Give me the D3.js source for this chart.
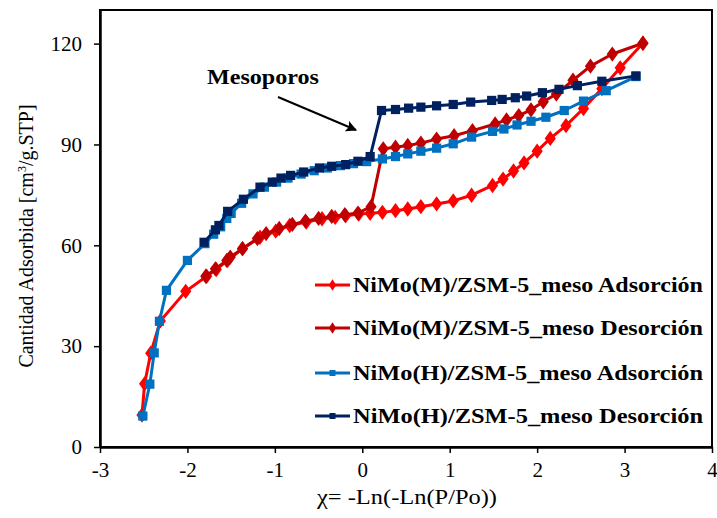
<!DOCTYPE html>
<html>
<head>
<meta charset="utf-8">
<script src="https://cdn.jsdelivr.net/npm/d3@7"></script>
<style>
  html, body { margin: 0; padding: 0; background: #fff; }
  svg { display: block; }
  text { font-family: "Liberation Serif", "Times New Roman", serif; fill: #000; }
</style>
</head>
<body>
<svg id="chart" width="717" height="518"></svg>
<script>
// ---------- data ----------
const xTicks = [-3, -2, -1, 0, 1, 2, 3, 4];
const yTicks = [0, 30, 60, 90, 120];

const seriesNames = [
  "NiMo(M)/ZSM-5_meso Adsorción",
  "NiMo(M)/ZSM-5_meso Desorción",
  "NiMo(H)/ZSM-5_meso Adsorción",
  "NiMo(H)/ZSM-5_meso Desorción"
];

const mAdsX = [-2.52, -2.49, -2.42, -2.31, -2.02, -1.78, -1.67, -1.54, -1.37, -1.17, -0.99, -0.83, -0.64, -0.46, -0.31, -0.19, -0.04, 0.09, 0.23, 0.38, 0.52, 0.67, 0.85, 1.04, 1.25, 1.49, 1.61, 1.73, 1.85, 2.00, 2.15, 2.33, 2.53, 2.74, 2.95, 3.21];
const mAdsY = [9.5, 18.8, 27.9, 37.5, 46.3, 50.8, 52.8, 55.5, 59.0, 62.4, 64.2, 65.9, 66.9, 67.9, 68.3, 68.8, 69.3, 69.5, 69.8, 70.3, 70.8, 71.5, 72.3, 73.2, 74.9, 77.8, 79.7, 82.1, 84.5, 88.0, 91.8, 95.6, 100.7, 106.6, 112.8, 120.1];

const mDesX = [3.21, 2.86, 2.61, 2.41, 2.22, 2.07, 1.93, 1.79, 1.65, 1.52, 1.26, 1.05, 0.85, 0.67, 0.52, 0.38, 0.24, 0.10, -0.05, -0.20, -0.35, -0.50, -0.65, -0.80, -0.95, -1.10, -1.20, -1.37, -1.51, -1.55, -1.68, -1.79];
const mDesY = [120.1, 116.9, 113.3, 109.1, 105.0, 102.7, 100.3, 98.6, 97.3, 96.1, 94.1, 92.6, 91.6, 90.4, 89.7, 89.2, 88.7, 71.5, 69.6, 69.1, 68.6, 68.0, 67.2, 66.2, 65.0, 63.5, 62.0, 59.0, 56.5, 55.5, 53.0, 50.8];

const hAdsX = [-2.51, -2.43, -2.38, -2.32, -2.24, -2.00, -1.80, -1.70, -1.62, -1.55, -1.50, -1.38, -1.25, -1.12, -0.98, -0.85, -0.70, -0.55, -0.40, -0.25, -0.10, 0.05, 0.23, 0.38, 0.52, 0.67, 0.85, 1.04, 1.25, 1.49, 1.62, 1.77, 1.93, 2.10, 2.31, 2.53, 2.79, 3.13];
const hAdsY = [9.2, 18.7, 28.0, 37.4, 46.6, 55.5, 60.5, 63.3, 65.5, 68.0, 69.5, 72.5, 75.3, 77.3, 78.8, 80.0, 81.2, 82.2, 83.0, 83.7, 84.3, 84.9, 85.7, 86.4, 87.2, 88.0, 88.9, 90.2, 92.2, 93.9, 94.6, 95.8, 96.9, 98.1, 100.1, 102.9, 106.0, 110.2];

const hDesX = [3.13, 2.74, 2.46, 2.25, 2.06, 1.88, 1.75, 1.60, 1.48, 1.24, 1.04, 0.85, 0.67, 0.53, 0.38, 0.22, 0.09, -0.05, -0.19, -0.35, -0.49, -0.67, -0.82, -0.93, -1.03, -1.17, -1.36, -1.54, -1.64, -1.68, -1.81];
const hDesY = [110.4, 108.8, 107.5, 106.4, 105.4, 104.4, 103.9, 103.4, 103.1, 102.6, 101.9, 101.5, 101.1, 100.8, 100.4, 100.1, 86.4, 85.0, 84.0, 83.5, 83.0, 81.8, 80.8, 80.0, 78.8, 77.3, 73.7, 70.1, 65.9, 64.6, 60.9];

const colors = ["#FF0000", "#C00000", "#0070C0", "#002060"];
const markers = ["diamond", "diamond", "square", "square"];

const series = [
  { name: seriesNames[0], xs: mAdsX, ys: mAdsY, color: colors[0], marker: markers[0] },
  { name: seriesNames[1], xs: mDesX, ys: mDesY, color: colors[1], marker: markers[1] },
  { name: seriesNames[2], xs: hAdsX, ys: hAdsY, color: colors[2], marker: markers[2] },
  { name: seriesNames[3], xs: hDesX, ys: hDesY, color: colors[3], marker: markers[3] }
];

// ---------- layout ----------
const svg = d3.select("#chart");
const L = 100, R = 712, T = 10, B = 447;

const x = d3.scaleLinear().domain([-3, 4]).range([L, R]);
const y = d3.scaleLinear().domain([0, 130]).range([B, T]);

// plot frame
svg.append("rect")
  .attr("x", L).attr("y", T).attr("width", R - L).attr("height", B - T)
  .attr("fill", "none").attr("stroke", "#000").attr("stroke-width", 2);

// axes
const fmt = d => String(d);
const xAxis = svg.append("g").attr("transform", `translate(0,${B})`)
  .call(d3.axisBottom(x).tickValues(xTicks).tickFormat(fmt).tickSize(6).tickSizeOuter(0).tickPadding(6));
const yAxis = svg.append("g").attr("transform", `translate(${L},0)`)
  .call(d3.axisLeft(y).tickValues(yTicks).tickFormat(fmt).tickSize(6).tickSizeOuter(0).tickPadding(12));

[xAxis, yAxis].forEach(g => {
  g.attr("font-family", null);
  g.select(".domain").attr("stroke", "#000").attr("stroke-width", 2.5);
  g.selectAll(".tick line").attr("stroke", "#000").attr("stroke-width", 1.5);
  g.selectAll(".tick text")
    .style("font-family", '"Liberation Serif", serif')
    .style("font-size", "21px").attr("fill", "#000");
});
xAxis.selectAll(".tick text").attr("dy", "0.85em");

// axis titles
svg.append("text")
  .attr("x", 407).attr("y", 504)
  .attr("text-anchor", "middle")
  .style("font-size", "21px")
  .attr("textLength", 180).attr("lengthAdjust", "spacingAndGlyphs")
  .text("χ= -Ln(-Ln(P/Po))");

const yt = svg.append("text")
  .attr("transform", "translate(33,236) rotate(-90)")
  .attr("text-anchor", "middle")
  .style("font-size", "20px");
yt.append("tspan").text("Cantidad Adsorbida [cm");
yt.append("tspan").attr("baseline-shift", "super").style("font-size", "12px").text("3");
yt.append("tspan").text("/g.STP]");

// series
const line = d3.line().x(d => x(d[0])).y(d => y(d[1]));
const sq = d3.symbol().type(d3.symbolSquare).size(85);
const dm = d3.symbol().type(d3.symbolDiamond).size(75);

series.forEach(s => {
  const pts = s.xs.map((v, i) => [v, s.ys[i]]);
  const g = svg.append("g");
  g.append("path").datum(pts)
    .attr("d", line)
    .attr("fill", "none").attr("stroke", s.color).attr("stroke-width", 3)
    .attr("stroke-linejoin", "round");
  g.selectAll("path.m").data(pts).enter().append("path")
    .attr("class", "m")
    .attr("transform", d => `translate(${x(d[0])},${y(d[1])})` + (s.marker === "diamond" ? " scale(1.2,0.95)" : ""))
    .attr("d", s.marker === "diamond" ? dm : sq)
    .attr("fill", s.color);
});

// annotation
svg.append("text")
  .attr("x", 263).attr("y", 84)
  .attr("text-anchor", "middle")
  .style("font-size", "20px").style("font-weight", "bold")
  .attr("textLength", 112).attr("lengthAdjust", "spacingAndGlyphs")
  .text("Mesoporos");

svg.append("defs").append("marker")
  .attr("id", "arrow").attr("viewBox", "0 0 10 10")
  .attr("refX", 9).attr("refY", 5)
  .attr("markerWidth", 5.5).attr("markerHeight", 5.5)
  .attr("orient", "auto")
  .append("path").attr("d", "M0,0 L10,5 L0,10 L2,5 z").attr("fill", "#000");

svg.append("line")
  .attr("x1", 278).attr("y1", 97).attr("x2", 356).attr("y2", 130)
  .attr("stroke", "#000").attr("stroke-width", 2)
  .attr("marker-end", "url(#arrow)");

// legend
const legY = [285, 328, 373, 416];
const leg = svg.append("g");
series.forEach((s, i) => {
  const g = leg.append("g").attr("transform", `translate(0,${legY[i]})`);
  g.append("line").attr("x1", 315).attr("x2", 350).attr("y1", 0).attr("y2", 0)
    .attr("stroke", s.color).attr("stroke-width", 3);
  g.append("path")
    .attr("transform", "translate(332.5,0)" + (s.marker === "diamond" ? " scale(0.8,0.7)" : " scale(0.65)"))
    .attr("d", s.marker === "diamond" ? dm : sq)
    .attr("fill", s.color);
  g.append("text")
    .attr("x", 353).attr("y", 0).attr("dy", "0.35em")
    .style("font-size", "20px").style("font-weight", "bold")
    .attr("textLength", 350).attr("lengthAdjust", "spacingAndGlyphs")
    .text(s.name);
});
</script>
</body>
</html>
